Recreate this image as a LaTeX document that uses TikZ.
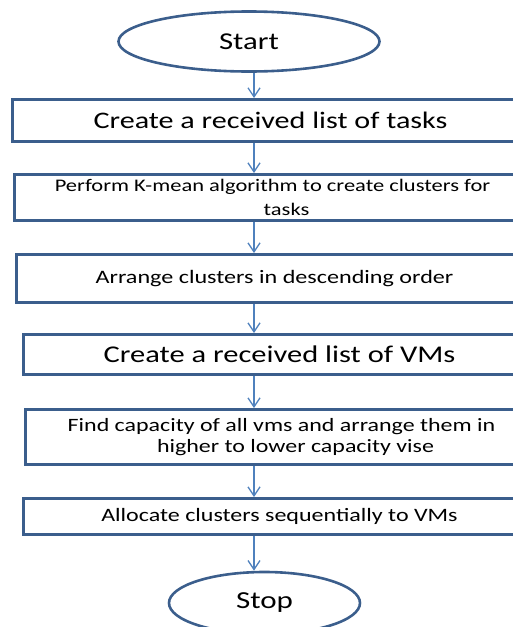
\documentclass[tikz,border=0pt]{standalone}
\usepackage{fontspec}
\setmainfont[FakeStretch=1.27]{Carlito}
\definecolor{flowBorder}{RGB}{59,94,140}
\definecolor{flowArrow}{RGB}{79,129,189}
\usetikzlibrary{shapes.geometric, arrows.meta, positioning}

\begin{document}
\begin{tikzpicture}[x=1pt, y=-1pt,
  terminal/.style={ellipse, draw=flowBorder, line width=2.6pt,
                   inner sep=0pt, align=center},
  stepbox/.style={rectangle, draw=flowBorder, line width=3pt,
                  inner sep=0pt, align=center},
  wideA/.style={stepbox, minimum width=516pt},
  wideB/.style={stepbox, minimum width=512pt},
  arrow/.style={-{Straight Barb[length=9pt, width=12pt]}, flowArrow, line width=1.3pt},
]
  \useasboundingbox (0,0) rectangle (513,627);
  \coordinate (axis) at (254,0);

  \node[terminal, minimum width=261pt, minimum height=60pt,
        font=\fontsize{24.2}{28}\selectfont] (start) at (249,41.5) {Start};

  \node[wideA, minimum height=42pt, font=\fontsize{23.7}{27}\selectfont]
    (tasks) at (270.5,120.5) {Create a received list of tasks};

  \node[wideA, minimum height=46pt, font=\fontsize{17.7}{24}\selectfont]
    (kmean) at (272.5,197.5) {Perform K-mean algorithm to create clusters for\\\hspace*{28pt}tasks};

  \node[wideA, minimum height=48pt, font=\fontsize{19}{23}\selectfont]
    (order) at (274.5,278.5) {Arrange clusters in descending order};

  \node[wideB, minimum height=40pt, font=\fontsize{24}{29}\selectfont]
    (vms) at (279.5,354.5) {Create a received list of VMs};

  \node[wideB, minimum height=55pt, font=\fontsize{18.85}{21}\selectfont]
    (capacity) at (281.5,437) {Find capacity of all vms and arrange them in\\\hspace*{28pt}higher to lower capacity vise};

  \node[wideB, minimum height=36pt, font=\fontsize{18.9}{24}\selectfont]
    (alloc) at (279.5,516.5) {Allocate clusters sequentially to VMs};

  \node[terminal, minimum width=191pt, minimum height=62pt,
        font=\fontsize{24.4}{30}\selectfont] (stop) at (264.5,603) {Stop};

  \draw[arrow] (start.south -| axis) -- (tasks.north -| axis);
  \draw[arrow] (tasks.south -| axis) -- (kmean.north -| axis);
  \draw[arrow] (kmean.south -| axis) -- (order.north -| axis);
  \draw[arrow] (order.south -| axis) -- (vms.north -| axis);
  \draw[arrow] (vms.south -| axis) -- (capacity.north -| axis);
  \draw[arrow] (capacity.south -| axis) -- (alloc.north -| axis);
  \draw[arrow] (alloc.south -| axis) -- (stop.north -| axis);
\end{tikzpicture}
\end{document}
